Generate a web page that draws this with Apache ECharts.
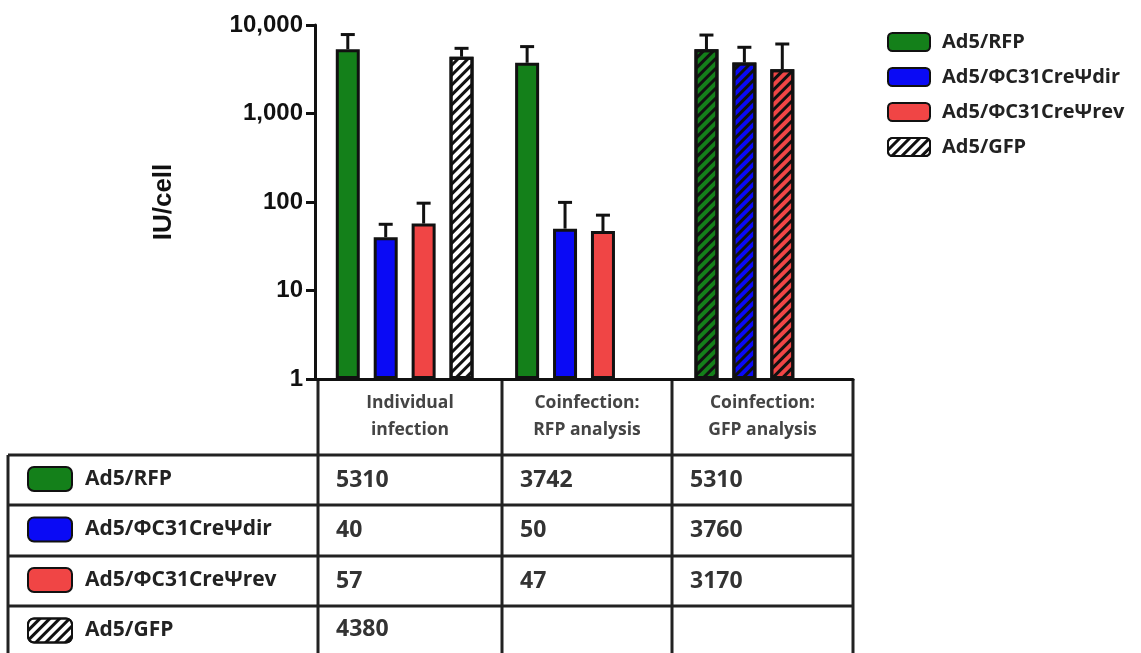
<!DOCTYPE html>
<head>
    <meta charset="utf-8">
    <title>IU/cell</title>
    <style>
        html, body {
            width: 100%;
            height: 100%;
            margin: 0;
            background: #fff;
        }
        #main {
            width: 1141px;
            height: 653px;
        }
    </style>
</head>
<body>
<div id="main"></div>
<script src="https://cdn.jsdelivr.net/npm/echarts@6/dist/echarts.min.js"></script>
<script type="text/javascript">
  // groups of the bar chart / table columns
  var categories = ['Individual infection', 'Coinfection: RFP analysis', 'Coinfection: GFP analysis'];
  var headerLines = [['Individual', 'infection'], ['Coinfection:', 'RFP analysis'], ['Coinfection:', 'GFP analysis']];
  var seriesNames = ['Ad5/RFP', 'Ad5/\u03A6C31Cre\u03A8dir', 'Ad5/\u03A6C31Cre\u03A8rev', 'Ad5/GFP'];

  // mean IU/cell per group (null = not measured)
  var rfpValues = [5310, 3742, 5310];
  var dirValues = [40, 50, 3760];
  var revValues = [57, 47, 3170];
  var gfpValues = [4380, null, null];

  // top of the error bars
  var rfpUpper = [7800, 5700, 7700];
  var dirUpper = [56, 99, 5600];
  var revUpper = [97, 71, 6100];
  var gfpUpper = [5450, null, null];

  var yTicks = [1, 10, 100, 1000, 10000];

  var allValues = [rfpValues, dirValues, revValues, gfpValues];
  var allUpper = [rfpUpper, dirUpper, revUpper, gfpUpper];
  var colors = ['#14801a', '#0a0af5', '#f04545', '#ffffff'];

  var barW = 24, barGap = 0.58;
  var barStride = barW * (1 + barGap);

  var hatch = {
    symbol: 'rect',
    symbolSize: 1,
    color: '#111',
    dashArrayX: [1, 0],
    dashArrayY: [3, 4],
    rotation: -Math.PI / 4
  };

  var myChart = echarts.init(document.getElementById('main'));

  var series = [];
  allValues.forEach(function (vals, k) {
    series.push({
      name: seriesNames[k],
      type: 'bar',
      barWidth: barW,
      barGap: (barGap * 100) + '%',
      itemStyle: {
        color: colors[k],
        borderColor: '#111',
        borderWidth: 3,
        decal: k === 3 ? hatch : null
      },
      data: vals.map(function (v, i) {
        if (v == null) return '-';
        // GFP analysis group is drawn hatched
        if (i === 2) return { value: v, itemStyle: { decal: hatch } };
        return v;
      }),
      z: 2
    });
  });

  allValues.forEach(function (vals, k) {
    var d = [];
    vals.forEach(function (v, i) {
      if (v != null) d.push([i, v, allUpper[k][i]]);
    });
    series.push({
      type: 'custom',
      name: seriesNames[k],
      z: 3,
      silent: true,
      renderItem: function (params, api) {
        var cat = api.value(0);
        var base = api.coord([cat, api.value(1)]);
        var top = api.coord([cat, api.value(2)]);
        var x = base[0] + (k - 1.5) * barStride;
        return {
          type: 'group',
          children: [
            { type: 'line', shape: { x1: x, y1: base[1], x2: x, y2: top[1] }, style: { stroke: '#111', lineWidth: 3 } },
            { type: 'line', shape: { x1: x - 7, y1: top[1], x2: x + 7, y2: top[1] }, style: { stroke: '#111', lineWidth: 3 } }
          ]
        };
      },
      data: d
    });
  });

  // table below the axis
  var tableCols = [318, 502, 672, 853];
  var tableRows = [455, 505, 556, 606];
  var tableTop = 379, tableBottom = 660, tableLeft = 8;
  var lineStyle = { stroke: '#222', lineWidth: 3 };
  var graphics = [];
  tableCols.forEach(function (x) {
    graphics.push({ type: 'line', shape: { x1: x, y1: tableTop, x2: x, y2: tableBottom }, style: lineStyle });
  });
  graphics.push({ type: 'line', shape: { x1: tableLeft, y1: tableRows[0], x2: tableLeft, y2: tableBottom }, style: lineStyle });
  tableRows.forEach(function (y) {
    graphics.push({ type: 'line', shape: { x1: tableLeft, y1: y, x2: tableCols[3], y2: y }, style: lineStyle });
  });
  headerLines.forEach(function (lines, c) {
    graphics.push({
      type: 'text',
      x: (tableCols[c] + tableCols[c + 1]) / 2,
      y: (tableTop + tableRows[0]) / 2,
      style: {
        text: lines.join('\n'),
        fill: '#444',
        font: 'bold 17.5px "Open Sans"',
        lineHeight: 27,
        align: 'center',
        verticalAlign: 'middle'
      }
    });
  });
  allValues.forEach(function (vals, r) {
    var yTop = tableRows[r], yBot = r + 1 < tableRows.length ? tableRows[r + 1] : 653;
    vals.forEach(function (v, c) {
      if (v == null) return;
      graphics.push({
        type: 'text',
        x: tableCols[c] + 18,
        y: (yTop + yBot) / 2,
        style: {
          text: String(v),
          fill: '#333',
          font: 'bold 23px "Open Sans"',
          align: 'left',
          verticalAlign: 'middle'
        }
      });
    });
  });

  var option = {
    animation: false,
    grid: {
      left: 315,
      top: 25,
      width: 538,
      height: 354,
      containLabel: false,
      outerBoundsMode: 'none'
    },
    legend: [
      {
        data: seriesNames,
        orient: 'vertical',
        left: 887,
        top: 32,
        padding: 0,
        itemWidth: 42,
        itemHeight: 18,
        itemGap: 15,
        icon: 'roundRect',
        selectedMode: false,
        textStyle: {
          fontFamily: 'Open Sans',
          fontWeight: 'bold',
          fontSize: 20,
          lineHeight: 18,
          color: '#222',
          padding: [0, 0, 0, 7]
        }
      },
      {
        data: seriesNames,
        orient: 'vertical',
        left: 27,
        top: 466,
        height: 260,
        padding: 0,
        itemWidth: 44,
        itemHeight: 24,
        itemGap: 24.5,
        icon: 'roundRect',
        selectedMode: false,
        textStyle: {
          fontFamily: 'Open Sans',
          fontWeight: 'bold',
          fontSize: 21,
          lineHeight: 24,
          color: '#222',
          padding: [0, 0, 0, 8]
        }
      }
    ],
    xAxis: {
      type: 'category',
      data: categories,
      axisLine: { lineStyle: { color: '#111', width: 3 } },
      axisTick: { show: false },
      axisLabel: { show: false }
    },
    yAxis: {
      type: 'log',
      logBase: 10,
      min: yTicks[0],
      max: yTicks[yTicks.length - 1],
      name: 'IU/cell',
      nameLocation: 'middle',
      nameRotate: 90,
      nameGap: 138,
      nameTextStyle: {
        fontFamily: 'Liberation Sans',
        fontWeight: 'bold',
        fontSize: 26,
        color: '#111'
      },
      axisLine: { show: true, lineStyle: { color: '#111', width: 3 } },
      axisTick: { show: true, length: 9, lineStyle: { width: 3, color: '#111' } },
      minorTick: { show: false },
      splitLine: { show: false },
      axisLabel: {
        margin: 12,
        fontFamily: 'Liberation Sans',
        fontWeight: 'bold',
        fontSize: 24,
        color: '#111',
        formatter: function (v) { return v.toLocaleString('en-US'); }
      }
    },
    series: series,
    graphic: graphics
  };
  myChart.setOption(option);
</script>
</body>
